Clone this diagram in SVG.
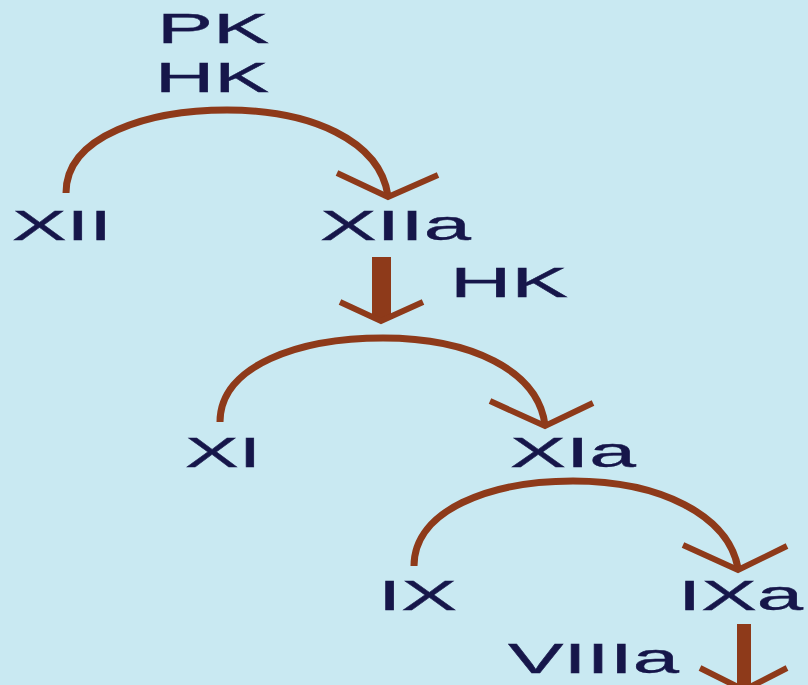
<svg xmlns="http://www.w3.org/2000/svg" width="808" height="685" viewBox="0 0 808 685">
  <style>
    .lbl { font-family: "Liberation Sans", Arial, sans-serif; font-size: 42px; fill: #16164a; stroke: #16164a; stroke-width: 0.4; }
    .arc { fill: none; stroke: #8e3a1a; stroke-width: 7; stroke-linecap: butt; }
    .head { fill: none; stroke: #8e3a1a; stroke-width: 6; stroke-linejoin: miter; stroke-linecap: butt; }
    .shaft { fill: #8e3a1a; }
  </style>
  <rect width="808" height="685" fill="#c9e9f2"/>

  <!-- factor labels -->
  <g id="pk"><text class="lbl" x="157" y="43" textLength="112" lengthAdjust="spacingAndGlyphs">PK</text></g>
  <g id="hk1"><text class="lbl" x="155" y="92" textLength="114" lengthAdjust="spacingAndGlyphs">HK</text></g>
  <g id="xii"><text class="lbl" x="12" y="240" textLength="100" lengthAdjust="spacingAndGlyphs">XII</text></g>
  <g id="xiia"><text class="lbl" x="320" y="240" textLength="151" lengthAdjust="spacingAndGlyphs">XIIa</text></g>
  <g id="hk2"><text class="lbl" x="450" y="297" textLength="118" lengthAdjust="spacingAndGlyphs">HK</text></g>
  <g id="xi"><text class="lbl" x="185" y="467" textLength="76" lengthAdjust="spacingAndGlyphs">XI</text></g>
  <g id="xia"><text class="lbl" x="510" y="467" textLength="126" lengthAdjust="spacingAndGlyphs">XIa</text></g>
  <g id="ix"><text class="lbl" x="378" y="610" textLength="79" lengthAdjust="spacingAndGlyphs">IX</text></g>
  <g id="ixa"><text class="lbl" x="678" y="610" textLength="125" lengthAdjust="spacingAndGlyphs">IXa</text></g>
  <g id="viiia"><text class="lbl" x="508" y="673" textLength="171" lengthAdjust="spacingAndGlyphs">VIIIa</text></g>

  <!-- activation arrows -->
  <g id="connectors">
    <path class="arc" d="M66,193 C66,135 150,110 227,110 C310,110 380,140 388,196"/>
    <polyline class="head" points="337,173 388,197 438,175"/>

    <rect class="shaft" x="372" y="257" width="19" height="62"/>
    <polyline class="head" points="340,302 381,321 423,302"/>

    <path class="arc" d="M220,422 C220,365 300,338 383,338 C470,338 538,370 545,425"/>
    <polyline class="head" points="490,401 545,426 593,403"/>

    <path class="arc" d="M414,566 C414,510 490,481 573,481 C660,481 728,515 738,568"/>
    <polyline class="head" points="683,545 738,570 787,546"/>

    <rect class="shaft" x="737" y="624" width="14" height="70"/>
    <polyline class="head" points="700,668 744,690 787,668"/>
  </g>
</svg>
